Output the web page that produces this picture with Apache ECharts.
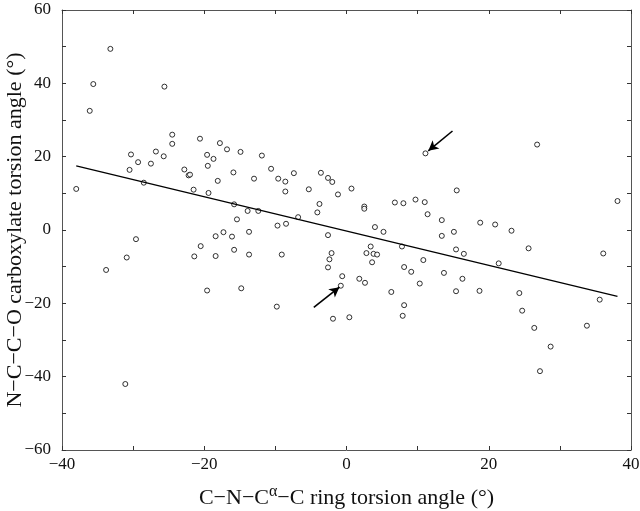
<!DOCTYPE html>
<html><head><meta charset="utf-8">
<script src="https://cdn.jsdelivr.net/npm/echarts@6/dist/echarts.min.js"></script>
<style>html,body{margin:0;padding:0;background:#fff}#c{width:640px;height:511px}</style>
</head><body><div id="c"></div>
<script>
const ringAngle = [-33.2,-35.6,-36.1,-25.6,-24.5,-24.5,-20.6,-17.8,-16.8,-14.9,-30.3,-26.8,-25.7,-19.6,-29.3,-27.5,-18.7,-19.5,-30.5,-22.8,-22.2,-22.0,-15.9,-18.1,-13.0,-28.5,-38.0,-21.5,-19.4,-15.8,-13.9,-12.4,-15.4,-11.9,-10.6,-9.6,-8.6,-7.4,-8.6,-3.6,-2.6,-2.0,-5.3,-1.2,0.7,-3.8,-4.1,-6.8,-9.7,-8.5,2.5,2.5,4.0,6.8,8.0,9.7,11.0,11.4,13.4,11.1,26.8,15.5,18.8,20.9,23.2,38.1,15.1,13.4,25.6,15.4,16.5,36.1,21.4,13.7,16.3,15.4,18.7,24.3,35.6,24.7,26.4,33.8,28.7,27.2,-2.6,-9.1,5.2,3.4,2.8,3.8,4.3,3.6,-2.1,-2.4,-2.6,-0.6,-0.8,1.8,2.6,7.8,10.8,8.1,9.1,10.3,6.3,8.1,7.9,-9.8,-1.9,0.4,-29.6,-30.9,-33.8,-31.1,-21.4,-20.5,-18.4,-17.3,-16.1,-13.7,-18.4,-15.8,-13.7,-19.6,-14.8];
const carboxAngle = [49.4,39.8,32.5,39.1,26.0,23.5,24.9,23.7,22.0,21.3,20.6,21.4,20.1,20.5,18.5,18.1,19.4,17.5,16.4,16.5,14.9,15.1,15.7,13.4,14.0,12.9,11.2,11.0,10.1,7.0,5.2,5.2,2.9,20.3,16.7,14.0,13.2,15.5,10.5,15.6,14.2,13.1,11.1,9.7,11.3,7.1,4.8,3.5,1.2,1.7,6.4,5.8,0.8,7.5,7.3,8.3,7.6,4.3,2.7,20.9,23.3,10.8,2.0,1.5,-0.2,7.9,-0.5,-1.6,-5.0,-5.3,-6.5,-6.4,-9.1,-11.7,-13.3,-16.7,-16.6,-17.2,-19.0,-22.0,-26.7,-26.1,-31.8,-38.5,-1.4,-6.7,-0.5,-4.5,-6.3,-6.5,-6.7,-8.8,-6.3,-8.0,-10.2,-12.6,-15.2,-13.3,-14.4,-4.5,-8.2,-10.1,-11.4,-14.6,-16.9,-20.5,-23.4,-20.9,-24.2,-23.8,-2.5,-7.5,-10.9,-42.0,-7.2,-4.4,-1.7,-0.6,-1.8,-0.5,-7.1,-5.4,-6.7,-16.5,-15.9];
const fitX = [-38.0, 38.1];
const fitY = [17.5, -18.1];
const arrowFrom = [[14.9, 27.0], [-4.6, -21.1]];
const arrowTo = [[11.5, 21.6], [-1.0, -15.6]];
const xTicks = [-40, 40, 10];
const yTicks = [-60, 60, 10];

const fmt = v => (v % 20 !== 0) ? '' : (v < 0 ? '\u2212' + Math.abs(v) : String(v));
const F = 'Liberation Serif';
const axisCommon = {
  axisLine: {show: true, onZero: false, lineStyle: {color: '#555', width: 1}},
  axisTick: {show: true, inside: true, length: 4, lineStyle: {color: '#333'}},
  splitLine: {show: false}
};
const chart = echarts.init(document.getElementById('c'));
chart.setOption({
  animation: false,
  backgroundColor: '#fff',
  grid: {left: 62, right: 9, top: 10, bottom: 61, containLabel: false, outerBoundsMode: 'none'},
  xAxis: [
    Object.assign({type: 'value', min: xTicks[0], max: xTicks[1], interval: xTicks[2], position: 'bottom',
      axisLabel: {formatter: fmt, fontFamily: F, fontSize: 17, color: '#111', margin: 6},
      name: '{t|C\u2212N\u2212C}{s|\u03b1}{t|\u2212C ring torsion angle (\u00b0)}', nameLocation: 'middle', nameGap: 34,
      nameMoveOverlap: false,
      nameTextStyle: {rich: {t: {fontFamily: F, fontSize: 22, color: '#111'}, s: {fontFamily: F, fontSize: 16, color: '#111', padding: [0, 0, 12, 0]}}}
    }, axisCommon),
    Object.assign({type: 'value', min: xTicks[0], max: xTicks[1], interval: xTicks[2], position: 'top', axisLabel: {show: false}}, axisCommon)
  ],
  yAxis: [
    Object.assign({type: 'value', min: yTicks[0], max: yTicks[1], interval: yTicks[2], position: 'left',
      axisLabel: {formatter: fmt, fontFamily: F, fontSize: 17, color: '#111', margin: 11},
      name: 'N\u2212C\u2212C\u2212O carboxylate torsion angle (\u00b0)', nameLocation: 'middle', nameGap: 36,
      nameMoveOverlap: false,
      nameTextStyle: {fontFamily: F, fontSize: 22, color: '#111'}
    }, axisCommon),
    Object.assign({type: 'value', min: yTicks[0], max: yTicks[1], interval: yTicks[2], position: 'right', axisLabel: {show: false}}, axisCommon)
  ],
  series: [
    {type: 'scatter', symbol: 'circle', symbolSize: 5,
     itemStyle: {color: '#fff', borderColor: '#000', borderWidth: 1},
     data: ringAngle.map((x, i) => [x, carboxAngle[i]]), silent: true},
    {type: 'line', data: fitX.map((x, i) => [x, fitY[i]]), symbol: 'none',
     lineStyle: {color: '#000', width: 1.3}, silent: true,
     markLine: {silent: true, symbol: ['none', 'arrow'], symbolSize: [8, 10],
       lineStyle: {color: '#000', width: 1.6, type: 'solid'}, label: {show: false},
       data: arrowFrom.map((p, i) => [{coord: p}, {coord: arrowTo[i]}])}}
  ]
});
</script></body></html>
